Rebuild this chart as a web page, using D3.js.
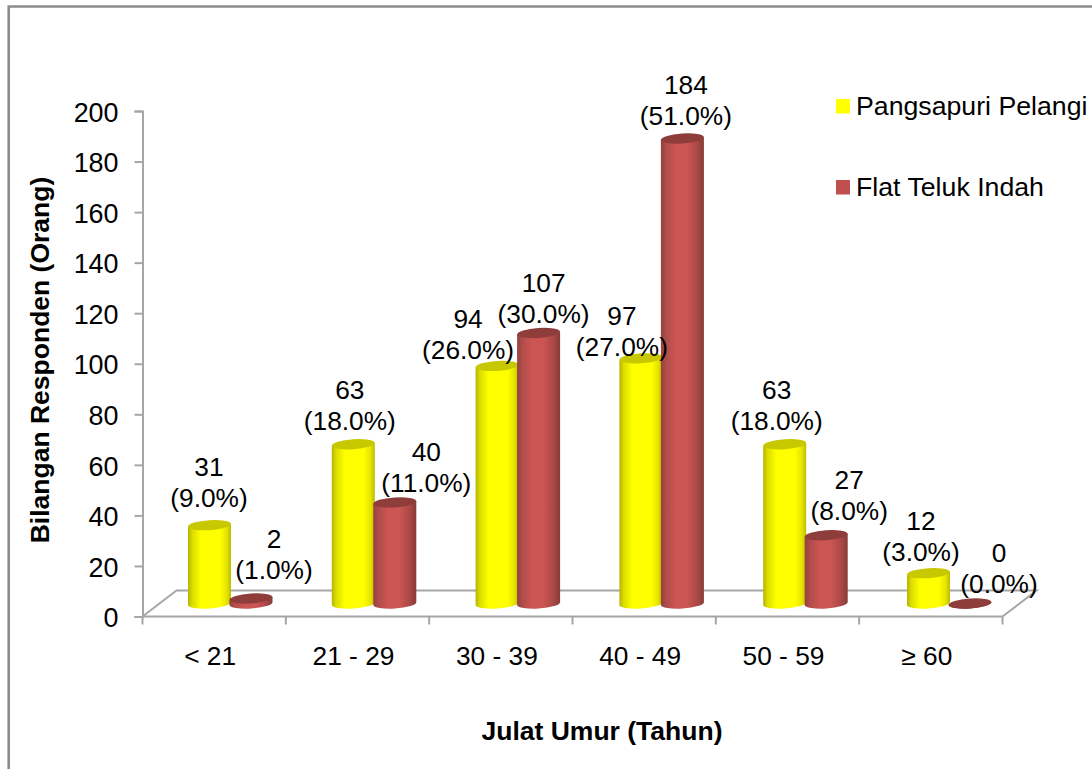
<!DOCTYPE html>
<html>
<head>
<meta charset="utf-8">
<script src="https://cdn.jsdelivr.net/npm/d3@7"></script>
<style>
html,body{margin:0;padding:0;background:#fff;}
svg{display:block;}
text{font-family:"Liberation Sans",Arial,sans-serif;fill:#000;}
</style>
</head>
<body>
<script>
const categories = ["< 21", "21 - 29", "30 - 39", "40 - 49", "50 - 59", "≥ 60"];
const seriesNames = ["Pangsapuri Pelangi", "Flat Teluk Indah"];
const pelangiValues = [31, 63, 94, 97, 63, 12];
const telukValues = [2, 40, 107, 184, 27, 0];
const pelangiShares = ["9.0", "18.0", "26.0", "27.0", "18.0", "3.0"];
const telukShares = ["1.0", "11.0", "30.0", "51.0", "8.0", "0.0"];
const yTicks = [0, 20, 40, 60, 80, 100, 120, 140, 160, 180, 200];

const W = 1092, H = 769;
const svg = d3.select("body").append("svg").attr("width", W).attr("height", H);

const x = d3.scaleBand().domain(categories).range([142.5, 1002.5]);
// Cylinders sit on the raised floor, so their spacing runs slightly wider than the axis ticks
const barX = d3.scaleBand().domain(categories).range([188, 188 + 6 * 143.8]);
const y = d3.scaleLinear().domain([0, 200]).range([616.5, 111]);
const barBaseOffset = 13;
const heightOf = v => y(0) - y(v);
const wallColor = "#a6a6a6";
const fontSize = 26.3;
const tickFontSize = 26.9;

// Cylinder shading, dark at both edges
const defs = svg.append("defs");
function shading(id, stops) {
  const g = defs.append("linearGradient").attr("id", id);
  stops.forEach(([o, c]) => g.append("stop").attr("offset", o).attr("stop-color", c));
}
shading("cylYellow", [[0, "#b4b400"], [0.1, "#dcdc00"], [0.3, "#ffff00"], [0.74, "#ffff00"], [0.9, "#e4e400"], [1, "#bcbc00"]]);
shading("cylRed", [[0, "#94413f"], [0.12, "#b04c4a"], [0.36, "#cd5654"], [0.62, "#cb5553"], [0.86, "#a84745"], [1, "#863b39"]]);

// Outer frame
svg.append("path")
  .attr("d", `M8.7,${H}V6.5H${W}`)
  .attr("fill", "none").attr("stroke", "#8c8c8c").attr("stroke-width", 2.6);

// Floor outline in oblique projection
const floorDx = 34, floorDy = 26;
const x0 = x.range()[0], x1 = x.range()[1], y0 = y(0);
svg.append("path")
  .attr("d", `M${x0},${y0}L${x0 + floorDx},${y0 - floorDy}H${x1 + floorDx}L${x1},${y0}`)
  .attr("fill", "none").attr("stroke", wallColor).attr("stroke-width", 2);

// Value axis
const yAxis = svg.append("g").attr("transform", `translate(${x0},0)`)
  .call(d3.axisLeft(y).tickValues(yTicks).tickSize(8).tickPadding(16));
yAxis.selectAll("path,line").attr("stroke", wallColor).attr("stroke-width", 2);
yAxis.selectAll("text")
  .attr("font-size", tickFontSize)
  .attr("dy", "0.38em")
  .style("font-family", '"Liberation Sans",Arial,sans-serif');

// Category axis
const xAxis = svg.append("g").attr("transform", `translate(0,${y0})`);
xAxis.append("line").attr("x1", x0).attr("x2", x1).attr("stroke", wallColor).attr("stroke-width", 2);
xAxis.selectAll(".tick").data(d3.range(categories.length + 1)).join("line")
  .attr("x1", i => x0 + i * x.step()).attr("x2", i => x0 + i * x.step())
  .attr("y1", 0).attr("y2", 8)
  .attr("stroke", wallColor).attr("stroke-width", 2);
xAxis.selectAll("text").data(categories).join("text")
  .attr("x", d => x(d) + x.bandwidth() / 2 - 4)
  .attr("y", 48.5)
  .attr("text-anchor", "middle")
  .attr("font-size", fontSize)
  .text(d => d);

// Cylinders, drawn with a slight tilt in the end caps
const barW = 43, rx = barW / 2, ry = 5, tilt = 1.4, tiltDeg = -3.7;
const series = [
  { values: pelangiValues, shares: pelangiShares, offset: 0, body: "url(#cylYellow)", top: "#c8c800" },
  { values: telukValues, shares: telukShares, offset: 41.5, body: "url(#cylRed)", top: "#8f3d3b" }
];
const cx = (cat, s) => barX(cat) + s.offset + rx;
const base = y0 - barBaseOffset;

series.forEach(s => {
  const g = svg.append("g");
  const rows = categories.map((c, i) => ({ c, v: s.values[i] }));
  g.selectAll("path").data(rows).join("path")
    .attr("d", d => {
      const l = cx(d.c, s) - rx, r = cx(d.c, s) + rx, h = heightOf(d.v);
      return `M${l},${base - h + tilt}V${base + tilt}A${rx},${ry} ${tiltDeg} 0 0 ${r},${base - tilt}V${base - h - tilt}Z`;
    })
    .attr("fill", d => d.v === 0 ? s.top : s.body);
  g.selectAll("ellipse").data(rows).join("ellipse")
    .attr("cx", 0).attr("cy", 0)
    .attr("rx", rx).attr("ry", ry)
    .attr("transform", d => `translate(${cx(d.c, s)},${base - heightOf(d.v)}) rotate(${tiltDeg})`)
    .attr("fill", s.top);
});

// Value and share labels, nudged per bar to sit clear of neighbours
const labelNudges = [
  [[-0.5, 2], [-3.5, 6], [-29, 13], [-19, 18], [-8, 6], [-7.5, 8]],
  [[23, 0.5], [31.5, 9.5], [5, 10], [3.5, 6.5], [23, 4.5], [29, 9.5]]
];
const lineGap = 31;
series.forEach((s, si) => {
  categories.forEach((c, i) => {
    const v = s.values[i];
    const [nx, ny] = labelNudges[si][i];
    const px = cx(c, s) + nx;
    const py = base - heightOf(v) - 20 + ny;
    const t = svg.append("text").attr("text-anchor", "middle").attr("font-size", fontSize);
    t.append("tspan").attr("x", px).attr("y", py - lineGap).text(v);
    t.append("tspan").attr("x", px).attr("y", py).text(`(${s.shares[i]}%)`);
  });
});

// Axis titles
svg.append("text")
  .attr("transform", "translate(49,360) rotate(-90)")
  .attr("text-anchor", "middle")
  .attr("font-size", 26.5).attr("font-weight", "bold")
  .text("Bilangan Responden (Orang)");
svg.append("text")
  .attr("x", 602).attr("y", 740)
  .attr("text-anchor", "middle")
  .attr("font-size", 26.5).attr("font-weight", "bold")
  .text("Julat Umur (Tahun)");

// Legend
const legendColor = ["#ffff00", "#c0504d"];
const legendTop = [99, 180];
seriesNames.forEach((name, i) => {
  svg.append("rect").attr("x", 836).attr("y", legendTop[i])
    .attr("width", 14).attr("height", 14.5).attr("fill", legendColor[i]);
  svg.append("text").attr("x", 856).attr("y", legendTop[i] + 15.5)
    .attr("font-size", 26.7).text(name);
});
</script>
</body>
</html>
